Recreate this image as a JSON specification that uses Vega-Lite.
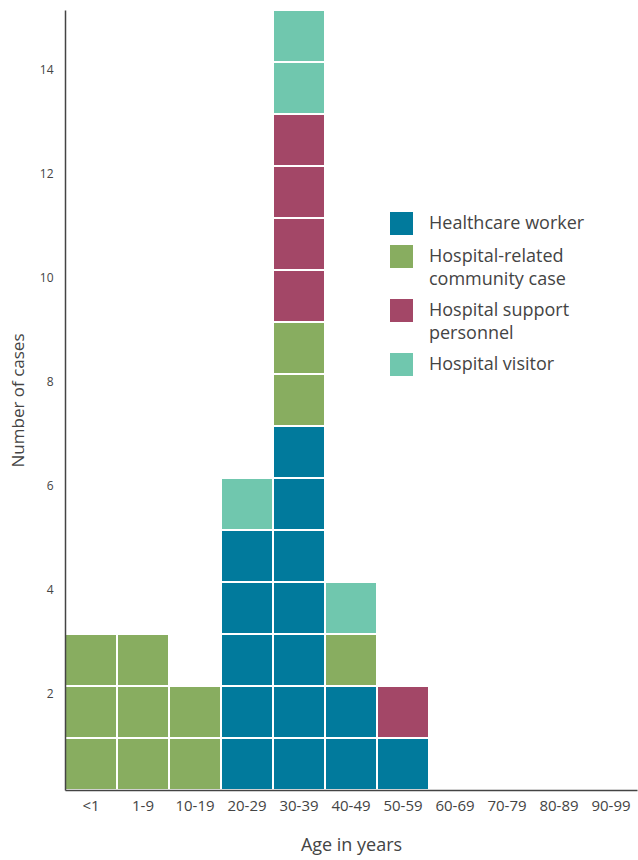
{
  "$schema": "https://vega.github.io/schema/vega-lite/v6.json",
  "width": 572,
  "height": 780,
  "autosize": {"type": "none"},
  "padding": {"left": 65, "top": 10, "right": 1, "bottom": 70},
  "config": {
    "view": {"stroke": null},
    "font": "Open Sans",
    "style": {"guide-label": {"lineHeight": 23}},
    "axis": {"labelColor": "#444", "titleColor": "#444", "titleFontWeight": "normal", "labelFont": "Open Sans", "titleFont": "Open Sans"},
    "legend": {"labelFont": "Open Sans"}
  },
  "datasets": {
    "cases": [
      {"age": "<1", "type": "Hospital-related community case", "ord": 2, "n": 1},
      {"age": "<1", "type": "Hospital-related community case", "ord": 2, "n": 1},
      {"age": "<1", "type": "Hospital-related community case", "ord": 2, "n": 1},
      {"age": "1-9", "type": "Hospital-related community case", "ord": 2, "n": 1},
      {"age": "1-9", "type": "Hospital-related community case", "ord": 2, "n": 1},
      {"age": "1-9", "type": "Hospital-related community case", "ord": 2, "n": 1},
      {"age": "10-19", "type": "Hospital-related community case", "ord": 2, "n": 1},
      {"age": "10-19", "type": "Hospital-related community case", "ord": 2, "n": 1},
      {"age": "20-29", "type": "Healthcare worker", "ord": 1, "n": 1},
      {"age": "20-29", "type": "Healthcare worker", "ord": 1, "n": 1},
      {"age": "20-29", "type": "Healthcare worker", "ord": 1, "n": 1},
      {"age": "20-29", "type": "Healthcare worker", "ord": 1, "n": 1},
      {"age": "20-29", "type": "Healthcare worker", "ord": 1, "n": 1},
      {"age": "20-29", "type": "Hospital visitor", "ord": 4, "n": 1},
      {"age": "30-39", "type": "Healthcare worker", "ord": 1, "n": 1},
      {"age": "30-39", "type": "Healthcare worker", "ord": 1, "n": 1},
      {"age": "30-39", "type": "Healthcare worker", "ord": 1, "n": 1},
      {"age": "30-39", "type": "Healthcare worker", "ord": 1, "n": 1},
      {"age": "30-39", "type": "Healthcare worker", "ord": 1, "n": 1},
      {"age": "30-39", "type": "Healthcare worker", "ord": 1, "n": 1},
      {"age": "30-39", "type": "Healthcare worker", "ord": 1, "n": 1},
      {"age": "30-39", "type": "Hospital-related community case", "ord": 2, "n": 1},
      {"age": "30-39", "type": "Hospital-related community case", "ord": 2, "n": 1},
      {"age": "30-39", "type": "Hospital support personnel", "ord": 3, "n": 1},
      {"age": "30-39", "type": "Hospital support personnel", "ord": 3, "n": 1},
      {"age": "30-39", "type": "Hospital support personnel", "ord": 3, "n": 1},
      {"age": "30-39", "type": "Hospital support personnel", "ord": 3, "n": 1},
      {"age": "30-39", "type": "Hospital visitor", "ord": 4, "n": 1},
      {"age": "30-39", "type": "Hospital visitor", "ord": 4, "n": 1},
      {"age": "40-49", "type": "Healthcare worker", "ord": 1, "n": 1},
      {"age": "40-49", "type": "Healthcare worker", "ord": 1, "n": 1},
      {"age": "40-49", "type": "Hospital-related community case", "ord": 2, "n": 1},
      {"age": "40-49", "type": "Hospital visitor", "ord": 4, "n": 1},
      {"age": "50-59", "type": "Healthcare worker", "ord": 1, "n": 1},
      {"age": "50-59", "type": "Hospital support personnel", "ord": 3, "n": 1}
    ]
  },
  "data": {"name": "cases"},
  "mark": {"type": "bar", "stroke": "white", "strokeWidth": 2},
  "encoding": {
    "x": {
      "field": "age",
      "type": "ordinal",
      "sort": ["<1", "1-9", "10-19", "20-29", "30-39", "40-49", "50-59", "60-69", "70-79", "80-89", "90-99"],
      "scale": {"domain": ["<1", "1-9", "10-19", "20-29", "30-39", "40-49", "50-59", "60-69", "70-79", "80-89", "90-99"], "paddingInner": 0, "paddingOuter": 0},
      "axis": {
        "title": "Age in years",
        "titleFontSize": 18,
        "titlePadding": 23,
        "labelAngle": 0,
        "labelFontSize": 15,
        "labelPadding": 8,
        "ticks": false,
        "domainColor": "#444",
        "domainWidth": 1.5,
        "zindex": 1
      }
    },
    "y": {
      "field": "n",
      "type": "quantitative",
      "aggregate": null,
      "stack": "zero",
      "scale": {"domain": [0, 15], "nice": false},
      "axis": {
        "title": "Number of cases",
        "titleFontSize": 17,
        "titlePadding": 12,
        "values": [2, 4, 6, 8, 10, 12, 14],
        "labelFontSize": 12,
        "labelPadding": 12,
        "labelOffset": 7,
        "ticks": false,
        "grid": false,
        "domainColor": "#444",
        "domainWidth": 1.5,
        "zindex": 1
      }
    },
    "color": {
      "field": "type",
      "type": "nominal",
      "scale": {
        "domain": ["Healthcare worker", "Hospital-related community case", "Hospital support personnel", "Hospital visitor"],
        "range": ["#017A9C", "#88AD60", "#A34767", "#70C7AE"]
      },
      "legend": {
        "title": null,
        "orient": "none",
        "legendX": 325,
        "legendY": 202,
        "symbolType": "square",
        "symbolSize": 529,
        "symbolStrokeWidth": 0,
        "labelFontSize": 18,
        "labelColor": "#444",
        "labelOffset": 16,
        "rowPadding": 10,
        "labelLimit": 300,
        "labelExpr": "datum.label == 'Hospital-related community case' ? ['Hospital-related', 'community case'] : datum.label == 'Hospital support personnel' ? ['Hospital support', 'personnel'] : datum.label"
      }
    },
    "order": {"field": "ord", "type": "quantitative"}
  }
}
